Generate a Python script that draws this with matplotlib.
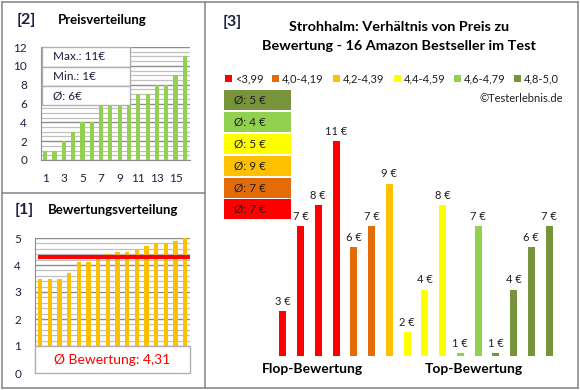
import matplotlib
matplotlib.use("Agg")
import matplotlib.pyplot as plt
from matplotlib.patches import Rectangle
from matplotlib.lines import Line2D
from matplotlib.ticker import MultipleLocator

plt.rcParams['font.family'] = ['Lato', 'DejaVu Sans']

# ---- data ----
price_idx = list(range(1, 17))
prices_sorted = [1, 1, 2, 3, 4, 4, 6, 6, 6, 6, 7, 7, 8, 8, 9, 11]
price_ticks = [1, 3, 5, 7, 9, 11, 13, 15]
price_max, price_min, price_avg = "11€", "1€", "6€"

ratings_sorted = [3.5, 3.5, 3.5, 3.7, 4.1, 4.1, 4.3, 4.4, 4.5, 4.5, 4.6, 4.7, 4.8, 4.8, 4.9, 5.0]
rating_avg = 4.31

bar_prices = [3, 7, 8, 11, 6, 7, 9, 2, 4, 8, 1, 7, 1, 4, 6, 7]
bar_groups = [0, 0, 0, 0, 1, 1, 2, 3, 3, 3, 4, 4, 5, 5, 5, 5]
group_labels = ["<3,99", "4,0-4,19", "4,2-4,39", "4,4-4,59", "4,6-4,79", "4,8-5,0"]
group_colors = ["#FF0000", "#E36C09", "#FFC000", "#FFFF00", "#92D050", "#77933C"]
group_avgs = ["7 €", "7 €", "9 €", "5 €", "4 €", "5 €"]

W, H = 580, 390
fig = plt.figure(figsize=(W / 100, H / 100), dpi=100)
fig.patch.set_facecolor("white")

def fx(x):
    return x / W

def fy(y):
    return 1 - y / H

def add_ax(x0, y0, x1, y1):
    return fig.add_axes([fx(x0), fy(y1), (x1 - x0) / W, (y1 - y0) / H])

def ftext(x, y, s, **kw):
    fig.text(fx(x), fy(y), s, **kw)

border = "#8C8C8C"
# frame lines
for (xa, ya, xb, yb) in [(2, 2, 578, 2), (2, 388, 578, 388), (2, 2, 2, 388), (578, 2, 578, 388),
                         (205, 2, 205, 388), (2, 193, 205, 193)]:
    fig.add_artist(Line2D([fx(xa), fx(xb)], [fy(ya), fy(yb)], color=border, lw=1.2))

# ---- panel [2] Preisverteilung ----
ax2 = add_ax(41, 47, 190, 160)
ax2.bar(price_idx, prices_sorted, width=0.45, color="#92D050", zorder=3)
ax2.set_xlim(0.55, 16.55)
ax2.set_ylim(0, 12)
ax2.yaxis.set_major_locator(MultipleLocator(2))
ax2.yaxis.set_minor_locator(MultipleLocator(0.5))
ax2.set_xticks(price_ticks)
ax2.grid(axis="y", which="major", color="#8C8C8C", lw=1.0, zorder=0)
ax2.grid(axis="y", which="minor", color="#C0C0C0", lw=0.9, zorder=0)
for s in ["top", "right"]:
    ax2.spines[s].set_visible(False)
for s in ["left", "bottom"]:
    ax2.spines[s].set_color("#8C8C8C")
ax2.tick_params(axis="both", which="both", length=0, labelsize=8.5, colors="#1F1F3F")
ax2.tick_params(axis="x", pad=9)
ax2.tick_params(axis="y", pad=10)
ax2.set_facecolor("white")

# stats box
box_x0, box_x1 = 42, 130
rows = [(47, 67, "Max.: " + price_max), (67, 86, "Min.: " + price_min), (86, 105, "Ø: " + price_avg)]
for (r0, r1, label) in rows:
    fig.add_artist(Rectangle((fx(box_x0), fy(r1)), (box_x1 - box_x0) / W, (r1 - r0) / H,
                             facecolor="white", edgecolor="#B0B0B0", lw=1.0, zorder=5))
    ftext(box_x0 + 11, (r0 + r1) / 2, label, fontsize=8.5, va="center", ha="left",
          color="#1F1F3F", zorder=6)

ftext(17, 20, "[2]", fontsize=11.5, fontweight="bold", va="center", ha="left", color="#1F1F3F")
ftext(58, 20, "Preisverteilung", fontsize=9.5, fontweight="bold", va="center", ha="left", color="black")

# ---- panel [1] Bewertungsverteilung ----
ax1 = add_ax(35, 238, 190, 373)
ax1.bar(price_idx, ratings_sorted, width=0.45, color="#FFC000", zorder=3)
ax1.set_xlim(0.48, 16.5)
ax1.set_ylim(0, 5)
ax1.yaxis.set_major_locator(MultipleLocator(1))
ax1.yaxis.set_minor_locator(MultipleLocator(0.2))
ax1.set_xticks([])
ax1.grid(axis="y", which="major", color="#8C8C8C", lw=1.0, zorder=0)
ax1.grid(axis="y", which="minor", color="#C0C0C0", lw=0.9, zorder=0)
for s in ["top", "right", "bottom"]:
    ax1.spines[s].set_visible(False)
ax1.spines["left"].set_color("#8C8C8C")
ax1.tick_params(axis="both", which="both", length=0, labelsize=8.5, colors="#1F1F3F")
ax1.tick_params(axis="y", pad=10)
ax1.plot([0.75, 16.45], [rating_avg, rating_avg], color="#FF0000", lw=3, zorder=4,
         solid_capstyle="butt")
ax1.add_patch(Rectangle((0.48, 0), 16.0, 1, facecolor="white", edgecolor="#B0B0B0",
                        lw=1.0, zorder=5, clip_on=False))
ax1.text(8.5, 0.5, "Ø Bewertung: " + f"{rating_avg:.2f}".replace(".", ","), fontsize=10,
         color="#FF0000", ha="center", va="center", zorder=6)

ftext(15, 210, "[1]", fontsize=11.5, fontweight="bold", va="center", ha="left", color="#1F1F3F")
ftext(48, 210, "Bewertungsverteilung", fontsize=9.5, fontweight="bold", va="center", ha="left",
      color="black")

# ---- panel [3] ----
ax3 = add_ax(274, 120, 558, 356)
cols = [group_colors[g] for g in bar_groups]
ax3.bar(price_idx, bar_prices, width=0.4, color=cols, zorder=3, bottom=0)
ax3.set_xlim(0.5, 16.5)
ax3.set_ylim(0.87, 12.0)
ax3.axis("off")
for xi, v in zip(price_idx, bar_prices):
    ax3.annotate(f"{v} €", (xi, v), xytext=(0, 3), textcoords="offset points",
                 ha="center", va="bottom", fontsize=8, color="#1F1F1F")

ftext(223, 22, "[3]", fontsize=11.5, fontweight="bold", va="center", ha="left", color="#1F1F3F")
ftext(399, 27, "Strohhalm: Verhältnis von Preis zu", fontsize=10.4, fontweight="bold",
      va="center", ha="center", color="black")
ftext(399, 46, "Bewertung - 16 Amazon Bestseller im Test", fontsize=10.4, fontweight="bold",
      va="center", ha="center", color="black")

legend_x = [225, 272, 333, 394, 454, 514]
for lx, lab, c in zip(legend_x, group_labels, group_colors):
    fig.add_artist(Rectangle((fx(lx), fy(82)), 7 / W, 7 / H, facecolor=c, edgecolor="none"))
    ftext(lx + 10, 78.5, lab, fontsize=8, va="center", ha="left", color="#1F1F1F")

ftext(563, 98, "©Testerlebnis.de", fontsize=8, va="center", ha="right", color="#1F1F1F")

# average boxes (top: last group)
box_tops = [90, 112, 134, 156, 178, 199]
for i, top in enumerate(box_tops):
    g = 5 - i
    fig.add_artist(Rectangle((fx(224), fy(top + 20)), (291 - 224) / W, 20 / H,
                             facecolor=group_colors[g], edgecolor="none"))
    ftext(234, top + 10, "Ø: " + group_avgs[g], fontsize=8.5, va="center", ha="left",
          color="#1F1F1F")

ftext(312, 369, "Flop-Bewertung", fontsize=10, fontweight="bold", va="center", ha="center",
      color="black")
ftext(474, 369, "Top-Bewertung", fontsize=10, fontweight="bold", va="center", ha="center",
      color="black")

fig.savefig("out.png", dpi=100)
